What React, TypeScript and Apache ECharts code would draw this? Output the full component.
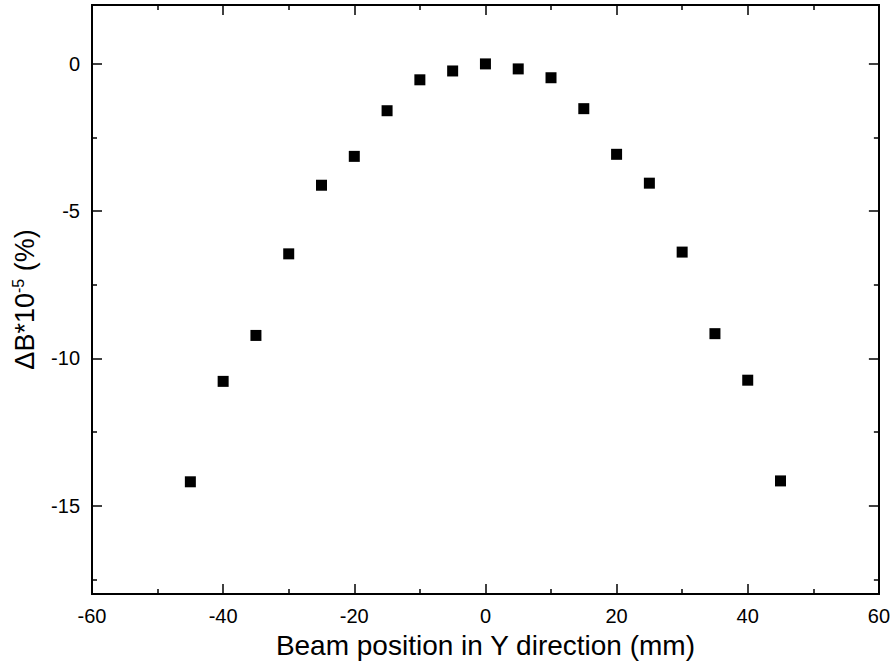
import React, { useEffect, useRef } from "react";
import * as echarts from "echarts";

const positions = [-45, -40, -35, -30, -25, -20, -15, -10, -5, 0, 5, 10, 15, 20, 25, 30, 35, 40, 45];
const deltaB = [-14.19, -10.78, -9.22, -6.45, -4.12, -3.14, -1.59, -0.54, -0.24, 0, -0.17, -0.47, -1.52, -3.07, -4.05, -6.39, -9.16, -10.74, -14.16];
const yMajorTicks = [-15, -10, -5, 0];
const yMinorTicks = [-17.5, -12.5, -7.5, -2.5];
const xTitle = "Beam position in Y direction (mm)";

const FONT = "Liberation Sans, Arial, sans-serif";

export default function App() {
  const ref = useRef<HTMLDivElement>(null);
  useEffect(() => {
    if (!ref.current) return;
    const chart = echarts.init(ref.current, null, { renderer: "svg" });
    const axisLine = { show: true, onZero: false, lineStyle: { color: "#000", width: 2 } };
    const tickStyle = { color: "#000", width: 1.5 };
    const baseX = {
      type: "value" as const,
      min: -60,
      max: 60,
      interval: 20,
      axisLine,
      axisTick: { show: true, inside: true, length: 10, lineStyle: tickStyle },
      minorTick: { show: true, splitNumber: 2, length: 5, lineStyle: tickStyle },
      splitLine: { show: false },
    };
    const yAxisOf = (position: "left" | "right", values: number[], len: number, labels: boolean) => ({
      type: "value" as const,
      min: -18,
      max: 2,
      position,
      axisLine,
      axisTick: { show: true, inside: true, length: len, lineStyle: tickStyle, customValues: values },
      axisLabel: labels
        ? { show: true, color: "#000", fontSize: 20, fontFamily: FONT, margin: 12, customValues: values }
        : { show: false },
      splitLine: { show: false },
    });
    chart.setOption({
      animation: false,
      backgroundColor: "#fff",
      grid: { left: 92, right: 12, top: 5, bottom: 70, containLabel: false },
      xAxis: [
        {
          ...baseX,
          position: "bottom",
          axisLabel: { color: "#000", fontSize: 20, fontFamily: FONT, margin: 12 },
          name: xTitle,
          nameLocation: "middle",
          nameGap: 37,
          nameTextStyle: { color: "#000", fontSize: 28, fontFamily: FONT },
        },
        { ...baseX, position: "top", axisLabel: { show: false } },
      ],
      yAxis: [
        {
          ...yAxisOf("left", yMajorTicks, 10, true),
          name: "{m|ΔB*10}{s|-5}{m| (%)}",
          nameLocation: "middle",
          nameGap: 52,
          nameTextStyle: {
            color: "#000",
            fontFamily: FONT,
            rich: {
              m: { fontSize: 27, fontFamily: FONT, color: "#000" },
              s: { fontSize: 16, fontFamily: FONT, color: "#000", verticalAlign: "top", padding: [0, 0, 14, 0] },
            },
          },
        },
        yAxisOf("left", yMinorTicks, 5, false),
        yAxisOf("right", yMajorTicks, 10, false),
        yAxisOf("right", yMinorTicks, 5, false),
      ],
      series: [
        {
          type: "scatter",
          symbol: "rect",
          symbolSize: 11,
          itemStyle: { color: "#000", opacity: 1 },
          data: positions.map((x, i) => [x, deltaB[i]]),
        },
      ],
    });
    return () => chart.dispose();
  }, []);
  return <div ref={ref} style={{ width: 893, height: 664, position: "absolute", left: 0, top: 0 }} />;
}
